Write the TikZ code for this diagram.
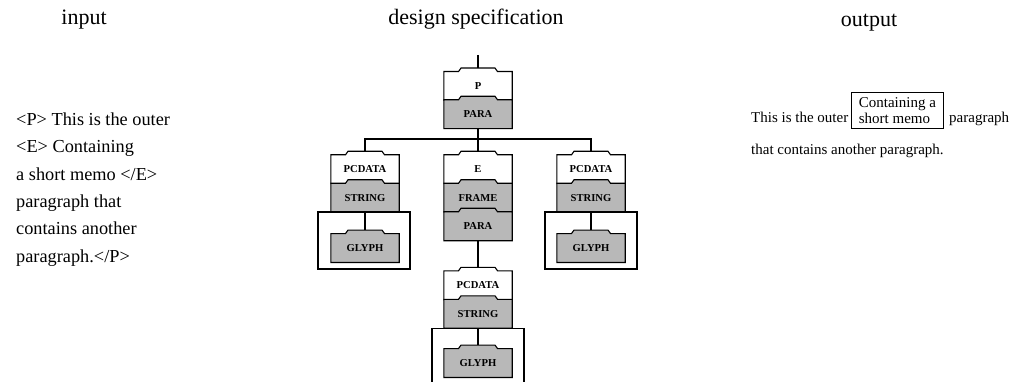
\documentclass[tikz,border=0pt]{standalone}
\usepackage{fontspec}
\setmainfont{Liberation Serif}
\usetikzlibrary{backgrounds}
\newcommand\tabblk[2]{%
  \filldraw[edge,#2] (#1.south west) -- (#1.north west) -- ([xshift=-19.5pt]#1.north)
    -- ([xshift=-17pt,yshift=3.5pt]#1.north) -- ([xshift=17pt,yshift=3.5pt]#1.north)
    -- ([xshift=19.5pt]#1.north) -- (#1.north east) -- (#1.south east) -- cycle;}
\begin{document}
\begin{tikzpicture}[x=1pt,y=-1pt,
  blk/.style={minimum width=68pt,minimum height=28.5pt,inner sep=0pt,font=\fontsize{10.6}{12}\selectfont\bfseries},
  edge/.style={line width=1.1pt,draw=black},
  shade/.style={fill=black!28},
  plain/.style={fill=white},
  hdr/.style={font=\fontsize{22}{24}\selectfont,anchor=base,inner sep=0pt},
  fr/.style={draw,line width=1.1pt,minimum width=92pt,minimum height=57pt,inner sep=0pt},
  otext/.style={font=\fontsize{15}{16}\selectfont,inner sep=0pt}
]
\useasboundingbox (0,0) rectangle (1025,382);
% headers
\node[hdr] (hin) at (84,25) {input};
\node[hdr] (hds) at (476,25) {design specification};
\node[hdr] (hout) at (869,27) {output};
% input text
\node[anchor=north west,inner sep=0pt,align=left,font=\fontsize{18.3}{27.4}\selectfont] (inp) at (16,112.5)
  {<P> This is the outer\\<E> Containing\\a short memo </E>\\paragraph that\\contains another\\paragraph.</P>};
% tree blocks
\node[blk] (P) at (478,86) {P};
\node[blk] (Ppara) at (478,114.25) {PARA};
\node[blk] (PCL) at (365,169.25) {PCDATA};
\node[blk] (STRL) at (365,197.75) {STRING};
\node[fr] (FL) at (364,240.5) {};
\node[blk] (GLL) at (365,248) {GLYPH};
\node[blk] (E) at (478,169.25) {E};
\node[blk] (FRM) at (478,197.75) {FRAME};
\node[blk] (PARA2) at (478,226.25) {PARA};
\node[blk] (PCM) at (478,285.25) {PCDATA};
\node[blk] (STRM) at (478,313.75) {STRING};
\node[blk] (GLM) at (478,363) {GLYPH};
\node[blk] (PCR) at (591,169.25) {PCDATA};
\node[blk] (STRR) at (591,197.75) {STRING};
\node[fr] (FR) at (591,240.5) {};
\node[blk] (GLR) at (591,248) {GLYPH};
\coordinate (top) at (478,55);
\coordinate (hub) at (478,139);
\begin{pgfonlayer}{background}
  \draw[edge] (top) -- (P.center);
  \draw[edge] (Ppara.center) -- (hub);
  \draw[edge] (PCL.center) |- (hub) -| (PCR.center);
  \draw[edge] (hub) -- (E.center);
  \draw[edge] (STRL.center) -- (GLL.center);
  \draw[edge] (STRR.center) -- (GLR.center);
  \draw[edge] (PARA2.center) -- (PCM.center);
  \draw[edge] (STRM.center) -- (GLM.center);
  \tabblk{P}{plain}
  \tabblk{Ppara}{shade}
  \tabblk{PCL}{plain}
  \tabblk{STRL}{shade}
  \tabblk{GLL}{shade}
  \tabblk{E}{plain}
  \tabblk{FRM}{shade}
  \tabblk{PARA2}{shade}
  \tabblk{PCM}{plain}
  \tabblk{STRM}{shade}
  \tabblk{GLM}{shade}
  \tabblk{PCR}{plain}
  \tabblk{STRR}{shade}
  \tabblk{GLR}{shade}
\end{pgfonlayer}
% open frame at the bottom of the middle column
\draw[edge] ([xshift=-46pt,yshift=-54pt]STRM.south) -- ([xshift=-46pt]STRM.south)
  -- ([xshift=46pt]STRM.south) -- ([xshift=46pt,yshift=-54pt]STRM.south);
% output
\node[otext,anchor=base west] (o1) at (751,123) {This is the outer};
\node[otext,draw,line width=0.8pt,align=left,anchor=north west,minimum width=92pt,minimum height=36pt] (obox) at (851,92) {Containing a\\short memo};
\node[otext,anchor=base west] (o2) at (949,123) {paragraph};
\node[otext,anchor=base west] (o3) at (751,155) {that contains another paragraph.};
\end{tikzpicture}
\end{document}
